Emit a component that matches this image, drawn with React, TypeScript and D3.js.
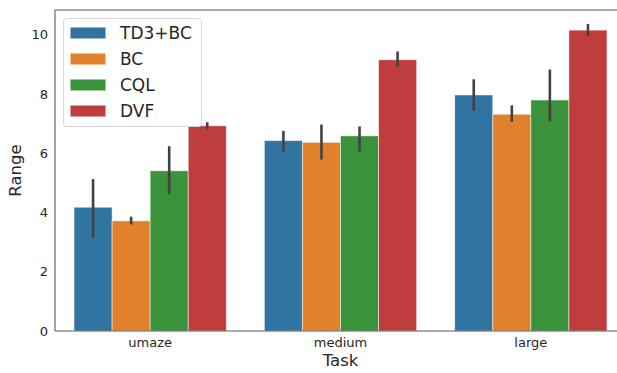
import React from 'react';
import * as d3 from 'd3';

// tasks on the x axis, methods as hue
const tasks = ['umaze', 'medium', 'large'];
const methods = ['TD3+BC', 'BC', 'CQL', 'DVF'];
const colors = ['#3274a1', '#e1812c', '#3a923a', '#c03d3e'];

// mean per method, one entry per task
const means = [
  [4.18, 6.43, 7.97],
  [3.72, 6.37, 7.32],
  [5.41, 6.59, 7.80],
  [6.93, 9.16, 10.16],
];
// error bar low / high per method, one entry per task
const errLow = [
  [3.15, 6.06, 7.44],
  [3.60, 5.79, 7.06],
  [4.62, 6.06, 7.08],
  [6.81, 8.92, 9.96],
];
const errHigh = [
  [5.13, 6.76, 8.50],
  [3.86, 6.97, 7.62],
  [6.24, 6.91, 8.83],
  [7.05, 9.44, 10.37],
];
const yTicks = [0, 2, 4, 6, 8, 10];

const W = 617;
const H = 373;
const margin = { top: 10, right: -9, bottom: 42, left: 55 };

export default function App() {
  const innerW = W - margin.left - margin.right;
  const innerH = H - margin.top - margin.bottom;

  const x = d3.scaleBand().domain(tasks).range([0, innerW]).paddingInner(0.2).paddingOuter(0.1);
  // seaborn: group takes 0.8 of the band, so rebuild with explicit band
  const band = innerW / tasks.length;
  const groupW = band * 0.8;
  const xc = (t: string) => tasks.indexOf(t) * band + band / 2;
  const xi = d3.scaleBand().domain(methods).range([-groupW / 2, groupW / 2]);
  const y = d3.scaleLinear().domain([0, 10.84]).range([innerH, 0]);

  const font = 'DejaVu Sans, sans-serif';

  return (
    <svg width={W} height={H} style={{ position: 'absolute', left: 0, top: 0 }} fontFamily={font}>
      <g transform={`translate(${margin.left},${margin.top})`}>
        {methods.map((m, mi) =>
          tasks.map((t, ti) => {
            const bx = xc(t) + (xi(m) as number);
            const v = means[mi][ti];
            return (
              <rect
                key={m + t}
                x={bx}
                y={y(v)}
                width={xi.bandwidth()}
                height={y(0) - y(v)}
                fill={colors[mi]}
                stroke="#ffffff"
                strokeOpacity={0.55}
                strokeWidth={0.9}
              />
            );
          })
        )}
        {methods.map((m, mi) =>
          tasks.map((t, ti) => {
            const cx = xc(t) + (xi(m) as number) + xi.bandwidth() / 2;
            return (
              <line
                key={'e' + m + t}
                x1={cx}
                x2={cx}
                y1={y(errLow[mi][ti])}
                y2={y(errHigh[mi][ti])}
                stroke="#424242"
                strokeWidth={2.6}
              />
            );
          })
        )}

        {/* spines */}
        <line x1={0} x2={0} y1={0} y2={innerH} stroke="#5a5a5a" strokeWidth={1.1} />
        <line x1={0} x2={innerW} y1={innerH} y2={innerH} stroke="#5a5a5a" strokeWidth={1.1} />
        <line x1={0} x2={innerW} y1={0} y2={0} stroke="#5a5a5a" strokeWidth={1.1} />

        {/* y ticks */}
        {yTicks.map((v) => (
          <text key={v} x={-7} y={y(v)} dy="0.35em" textAnchor="end" fontSize={13} fill="#262626">
            {v}
          </text>
        ))}
        {/* x ticks */}
        {tasks.map((t) => (
          <text key={t} x={xc(t)} y={innerH + 16} textAnchor="middle" fontSize={13} fill="#262626">
            {t}
          </text>
        ))}
        <text x={xc('medium')} y={innerH + 35} textAnchor="middle" fontSize={16.5} fill="#262626">
          Task
        </text>
        <text
          transform={`translate(${-34},${innerH / 2}) rotate(-90)`}
          textAnchor="middle"
          fontSize={16.5}
          fill="#262626"
        >
          Range
        </text>

        {/* legend */}
        <g transform="translate(8.5,8.5)">
          <rect width={138} height={108} rx={3} fill="#ffffff" fillOpacity={0.85} stroke="#d6d6d6" strokeWidth={1} />
          {methods.map((m, mi) => (
            <g key={m} transform={`translate(0,${14.5 + mi * 26})`}>
              <rect x={7} y={-5.5} width={35} height={11} fill={colors[mi]} />
              <text x={56.5} y={0} dy="0.36em" fontSize={17} fill="#262626">
                {m}
              </text>
            </g>
          ))}
        </g>
      </g>
    </svg>
  );
}
